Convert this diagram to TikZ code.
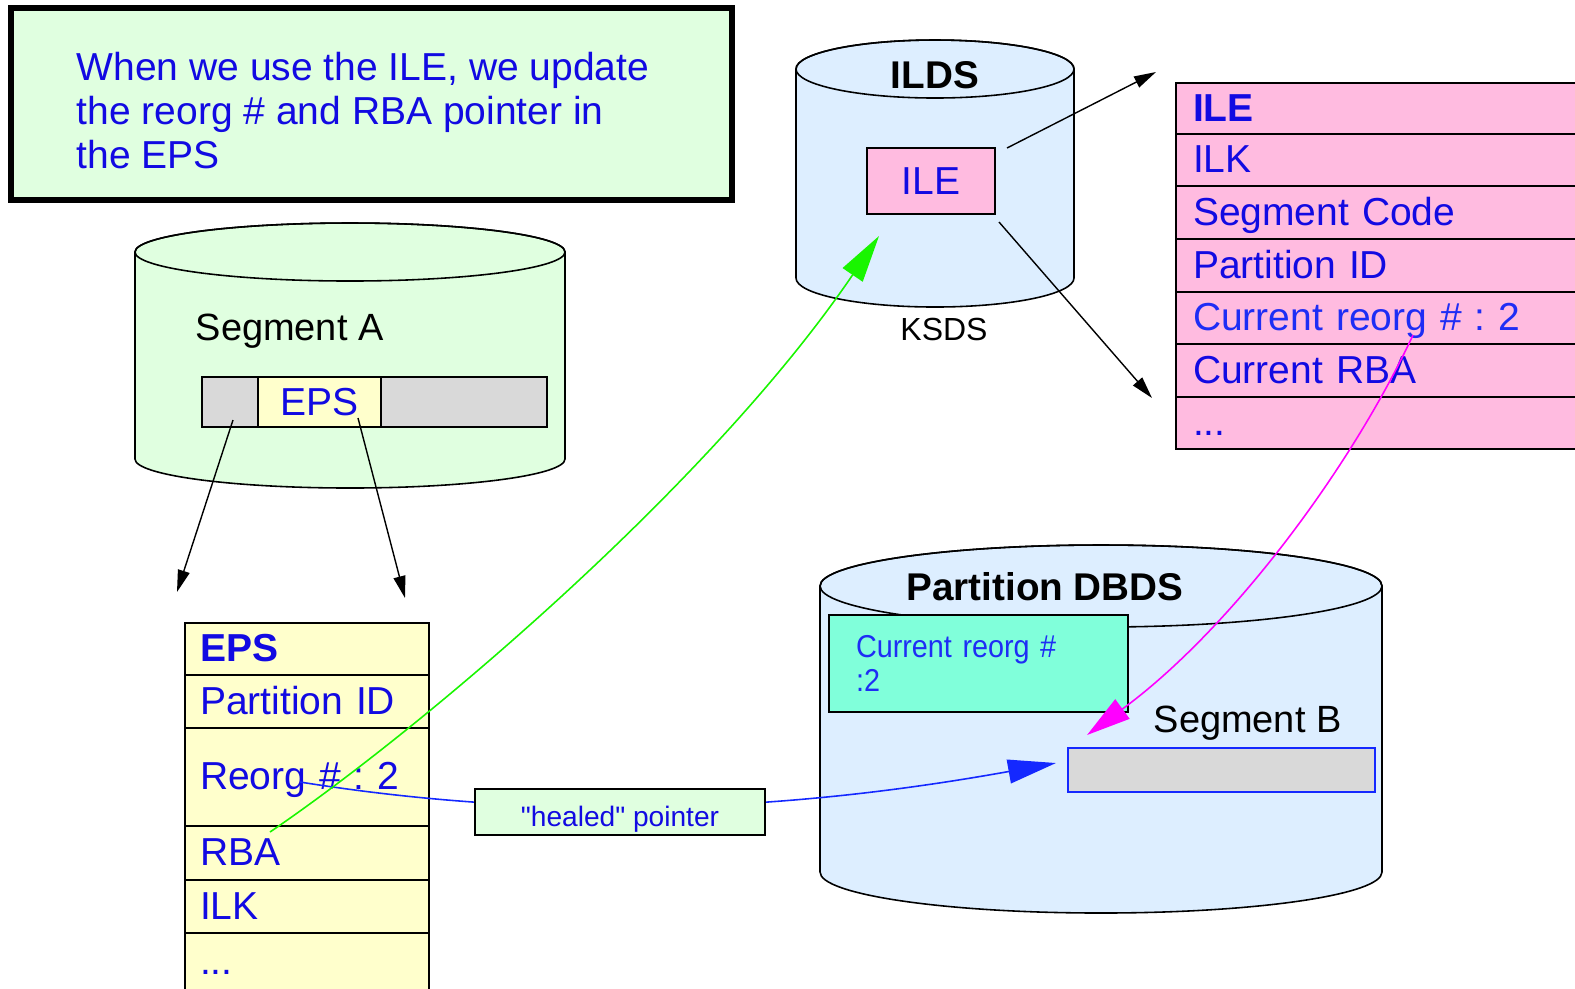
\documentclass[tikz,border=0pt]{standalone}
\usepackage{fontspec}
\setmainfont{Liberation Sans}
\newfontfamily\narrowsans[FakeStretch=0.91]{Liberation Sans}
\usetikzlibrary{arrows.meta}
\frenchspacing
\definecolor{txtblue}{RGB}{18,10,226}
\definecolor{brightblue}{RGB}{30,45,245}
\definecolor{lineblue}{RGB}{20,40,255}
\definecolor{notegreen}{RGB}{224,255,224}
\definecolor{drumblue}{RGB}{221,238,255}
\definecolor{ilepink}{RGB}{255,187,224}
\definecolor{epsyellow}{RGB}{255,255,204}
\definecolor{bargray}{RGB}{217,217,217}
\definecolor{aqua}{RGB}{128,255,218}
\definecolor{ptrgreen}{RGB}{25,245,0}
\definecolor{ptrpink}{RGB}{255,0,255}
\tikzset{txt/.style   = {font=\fontsize{11.1}{12.5}\selectfont},
         lbl/.style   = {font=\fontsize{10.8}{12}\selectfont, inner sep=0pt, anchor=base west},
         row/.style   = {txt, draw, line width=0.5pt, anchor=north west, inner ysep=0pt, outer sep=0pt,
                         text height=0.72em, text depth=0pt, align=left, text=txtblue},
         eprow/.style = {row, fill=epsyellow, inner xsep=1.5mm, text width=21.4mm},
         ilrow/.style = {row, fill=ilepink, inner xsep=1.7mm, text width=38.6mm},
         cell/.style  = {draw, line width=0.5pt, anchor=north west, inner sep=0pt, outer sep=0pt},
         drumline/.style = {line width=0.45pt},
         bigtip/.style = {-{Triangle[length=#1, width=2.4mm]}, line width=0.45pt}}
% cylinder: centre x, top y, bottom y, x radius, y radius, fill
\newcommand{\drum}[6]{%
  \filldraw[drumline, fill=#6] (#1-#4,#2) -- (#1-#4,#3)
    arc[start angle=180, end angle=360, x radius=#4*0.1mm, y radius=#5*0.1mm]
    -- (#1+#4,#2)
    arc[start angle=0, end angle=180, x radius=#4*0.1mm, y radius=#5*0.1mm] -- cycle;
  \draw[drumline] (#1,#2) ellipse[x radius=#4*0.1mm, y radius=#5*0.1mm];}

\begin{document}
\begin{tikzpicture}[x=0.1mm, y=-0.1mm, >={Triangle[length=2.2mm, width=1.2mm]}]
    \useasboundingbox (0,0) rectangle (1575,988);
    % note
    \node[cell, line width=1.7pt, fill=notegreen, minimum width=72.1mm, minimum height=19.2mm] (note) at (11,8) {};
    \node[txt, text=txtblue, anchor=north west, align=left, inner sep=0pt] (notetext) at (76,52)
      {When we use the ILE, we update\\the reorg \# and RBA pointer in\\the EPS};
    % data sets
    \drum{350}{252}{459}{215}{29}{notegreen}
    \drum{935}{69}{278}{139}{29}{drumblue}
    \drum{1101}{586}{872}{281}{41}{drumblue}
    \node[lbl] (segA) at (195,340) {Segment A};
    \node[lbl, font=\fontsize{11}{12}\selectfont\bfseries, anchor=base] (ilds) at (935,88) {ILDS};
    \node[lbl, font=\fontsize{9.1}{11}\selectfont, anchor=base] (ksds) at (944,340) {KSDS};
    \node[lbl, font=\fontsize{11}{12}\selectfont\bfseries, anchor=base] (dbds) at (1045,600) {Partition DBDS};
    \node[lbl] (segB) at (1153,732) {Segment B};
    % segment A
    \node[cell, fill=bargray, minimum width=5.6mm, minimum height=5mm] (segA1) at (202,377) {};
    \node[cell, fill=epsyellow, minimum width=12.3mm, minimum height=5mm, txt, text=txtblue] (segA2) at (258,377) {EPS};
    \node[cell, fill=bargray, minimum width=16.6mm, minimum height=5mm] (segA3) at (381,377) {};
    % ILDS
    \node[cell, fill=ilepink, minimum width=12.8mm, minimum height=6.6mm, txt, text=txtblue] (ile) at (867,148) {ILE};
    % partition DBDS
    \node[cell, fill=aqua, minimum width=29.9mm, minimum height=9.7mm, text width=24.5mm, align=left, inner xsep=2.7mm,
          font=\narrowsans\fontsize{9}{9.7}\selectfont, text=brightblue] (reorg) at (829,615) {Current reorg \#\\:2};
    \node[cell, fill=bargray, draw=lineblue, line width=0.6pt, minimum width=30.7mm, minimum height=4.4mm] (segBbar) at (1068,748) {};
    % EPS layout
    \node[eprow, minimum height=5.2mm] (eps1) at (185,623) {\textbf{EPS}};
    \node[eprow, minimum height=5.3mm] (eps2) at (185,675) {Partition ID};
    \node[eprow, minimum height=9.8mm] (eps3) at (185,728) {Reorg \# : 2};
    \node[eprow, minimum height=5.4mm] (eps4) at (185,826) {RBA};
    \node[eprow, minimum height=5.3mm] (eps5) at (185,880) {ILK};
    \node[eprow, minimum height=5.7mm] (eps6) at (185,933) {...};
    % ILE layout
    \node[ilrow, minimum height=5.1mm] (ile1) at (1176,83) {\textbf{ILE}};
    \node[ilrow, minimum height=5.2mm] (ile2) at (1176,134) {ILK};
    \node[ilrow, minimum height=5.3mm] (ile3) at (1176,186) {Segment Code};
    \node[ilrow, minimum height=5.3mm] (ile4) at (1176,239) {Partition ID};
    \node[ilrow, minimum height=5.2mm, text=brightblue] (ile5) at (1176,292) {Current reorg \# : 2};
    \node[ilrow, minimum height=5.3mm] (ile6) at (1176,344) {Current RBA};
    \node[ilrow, minimum height=5.2mm] (ile7) at (1176,397) {...};
    % pointer ends
    \coordinate (a1) at (233,420);  \coordinate (a1e) at (177,592);
    \coordinate (a2) at (358,418);  \coordinate (a2e) at (405,598);
    \coordinate (i1) at (1007,148); \coordinate (i1e) at (1156,72);
    \coordinate (i2) at (999,222);  \coordinate (i2e) at (1152,398);
    \coordinate (g0) at (270,832);  \coordinate (g1) at (879,236);
    \coordinate (m0) at (1413,335); \coordinate (m1) at (1087,735);
    \coordinate (b0) at (300,782);  \coordinate (b1) at (1056,763);
    \draw[->, line width=0.4pt] (a1) -- (a1e);
    \draw[->, line width=0.4pt] (a2) -- (a2e);
    \draw[->, line width=0.4pt] (i1) -- (i1e);
    \draw[->, line width=0.4pt] (i2) -- (i2e);
    % healed pointer
    \draw[lineblue, bigtip=4.8mm] (b0) .. controls (600,830) and (850,800) .. (b1);
    \node[cell, fill=notegreen, minimum width=29mm, minimum height=4.6mm, font=\fontsize{8}{9.6}\selectfont,
          text=txtblue, text height=2.8mm, text depth=0pt] (healed) at (475,789) {\textquotedbl healed\textquotedbl{} pointer};
    \draw[ptrgreen, bigtip=4.7mm] (g0) .. controls (420,730) and (710,485) .. (g1);
    \draw[ptrpink, bigtip=4.4mm] (m0) .. controls (1350,470) and (1230,630) .. (m1);
\end{tikzpicture}
\end{document}
